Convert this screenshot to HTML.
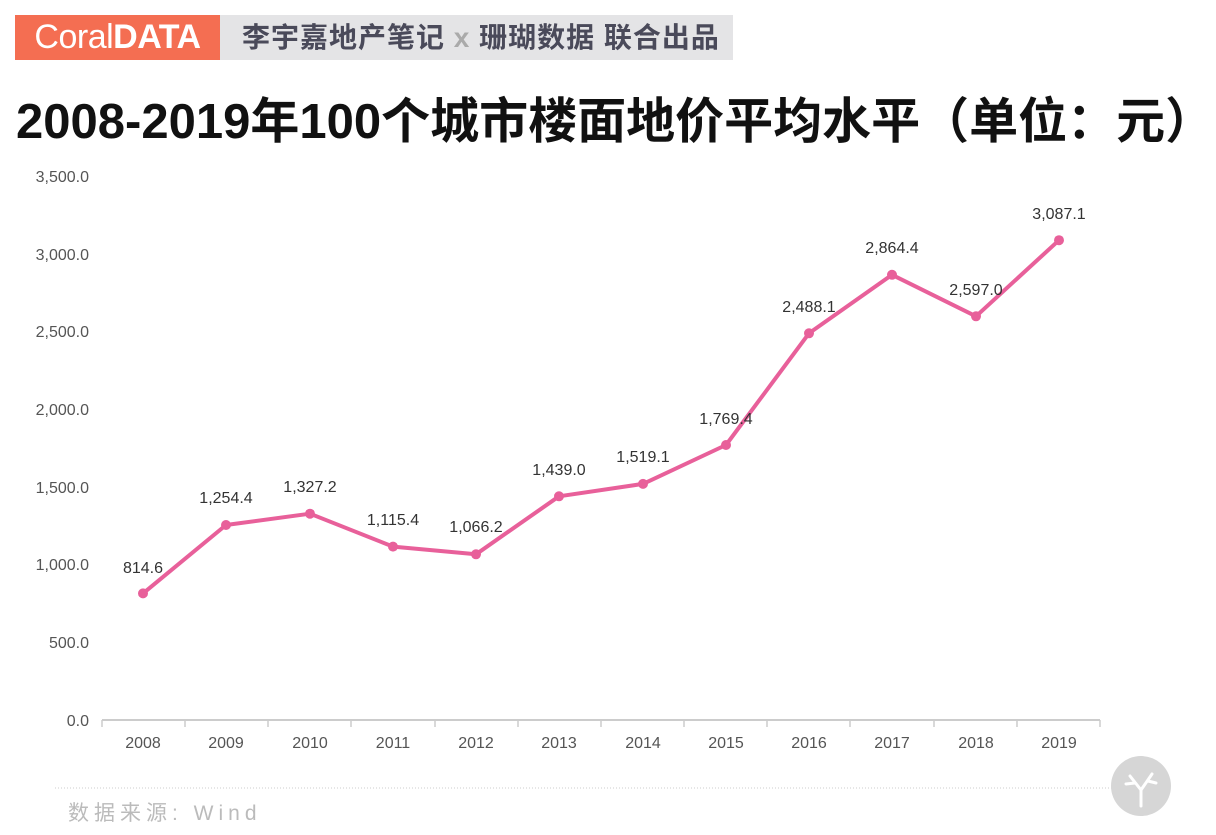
<!DOCTYPE html>
<html><head><meta charset="utf-8"><style>
body{margin:0;width:1216px;height:835px;background:#fff;position:relative;overflow:hidden;font-family:"Liberation Sans","Noto Sans CJK SC",sans-serif}
.c{position:absolute;left:15px;top:15px;width:205px;height:45px;background:#f46e52;color:#fff;font-size:34px;line-height:45px;text-align:center;letter-spacing:-0.5px}
.g{position:absolute;left:220px;top:15px;width:513px;height:45px;background:#e4e4e6;color:#4a4a5a;font-size:28px;font-weight:bold;line-height:45px;padding-left:22px;box-sizing:border-box;white-space:nowrap;letter-spacing:1px}
.t{position:absolute;left:16px;top:82px;font-size:49px;font-weight:bold;color:#111;white-space:nowrap;letter-spacing:0px}
.s{position:absolute;left:68px;top:797px;font-size:21px;color:#bbb;letter-spacing:5px}
</style></head><body>
<div class="c"><span style="font-weight:300">Coral</span><b>DATA</b></div>
<div class="g">李宇嘉地产笔记 <span style="color:#aaa">x</span> 珊瑚数据 联合出品</div>
<div class="t">2008-2019年100个城市楼面地价平均水平（单位：元）</div>
<svg width="1216" height="835" style="position:absolute;left:0;top:0" font-family="Liberation Sans, sans-serif">
<g font-size="16" fill="#555" text-anchor="end">
<text x="89" y="182">3,500.0</text><text x="89" y="260">3,000.0</text><text x="89" y="337">2,500.0</text><text x="89" y="415">2,000.0</text><text x="89" y="493">1,500.0</text><text x="89" y="570">1,000.0</text><text x="89" y="648">500.0</text><text x="89" y="726">0.0</text>
</g>
<line x1="102" y1="720" x2="1100" y2="720" stroke="#ccc" stroke-width="2"/>
<g stroke="#ccc" stroke-width="1.5">
<line x1="102" y1="720" x2="102" y2="727"/><line x1="185" y1="720" x2="185" y2="727"/><line x1="268" y1="720" x2="268" y2="727"/><line x1="351" y1="720" x2="351" y2="727"/><line x1="435" y1="720" x2="435" y2="727"/><line x1="518" y1="720" x2="518" y2="727"/><line x1="601" y1="720" x2="601" y2="727"/><line x1="684" y1="720" x2="684" y2="727"/><line x1="767" y1="720" x2="767" y2="727"/><line x1="850" y1="720" x2="850" y2="727"/><line x1="934" y1="720" x2="934" y2="727"/><line x1="1017" y1="720" x2="1017" y2="727"/><line x1="1100" y1="720" x2="1100" y2="727"/>
</g>
<g font-size="16" fill="#555" text-anchor="middle">
<text x="143" y="748">2008</text><text x="226" y="748">2009</text><text x="310" y="748">2010</text><text x="393" y="748">2011</text><text x="476" y="748">2012</text><text x="559" y="748">2013</text><text x="643" y="748">2014</text><text x="726" y="748">2015</text><text x="809" y="748">2016</text><text x="892" y="748">2017</text><text x="976" y="748">2018</text><text x="1059" y="748">2019</text>
</g>
<polyline fill="none" stroke="#e8609a" stroke-width="4" stroke-linejoin="round" points="143,593.4 226,525 310,513.7 393,546.6 476,554.3 559,496.3 643,483.9 726,445 809,333.3 892,274.8 976,316.3 1059,240.2"/>
<g fill="#e8609a">
<circle cx="143" cy="593.4" r="5"/><circle cx="226" cy="525" r="5"/><circle cx="310" cy="513.7" r="5"/><circle cx="393" cy="546.6" r="5"/><circle cx="476" cy="554.3" r="5"/><circle cx="559" cy="496.3" r="5"/><circle cx="643" cy="483.9" r="5"/><circle cx="726" cy="445" r="5"/><circle cx="809" cy="333.3" r="5"/><circle cx="892" cy="274.8" r="5"/><circle cx="976" cy="316.3" r="5"/><circle cx="1059" cy="240.2" r="5"/>
</g>
<g font-size="16" fill="#333" text-anchor="middle">
<text x="143" y="573">814.6</text><text x="226" y="503">1,254.4</text><text x="310" y="492">1,327.2</text><text x="393" y="525">1,115.4</text><text x="476" y="532">1,066.2</text><text x="559" y="475">1,439.0</text><text x="643" y="462">1,519.1</text><text x="726" y="424">1,769.4</text><text x="809" y="312">2,488.1</text><text x="892" y="253">2,864.4</text><text x="976" y="295">2,597.0</text><text x="1059" y="219">3,087.1</text>
</g>
<line x1="55" y1="788" x2="1140" y2="788" stroke="#ccc" stroke-width="1" stroke-dasharray="1,2"/>
<circle cx="1141" cy="786" r="30" fill="#d6d6d6"/>
<path d="M1141 806 L1141 790 L1130 776 M1141 790 L1152 774 M1135 783 L1126 784 M1148 781 L1156 783" stroke="#fff" stroke-width="3" fill="none" stroke-linecap="round"/>
</svg>
<div class="s">数据来源: Wind</div>
</body></html>
